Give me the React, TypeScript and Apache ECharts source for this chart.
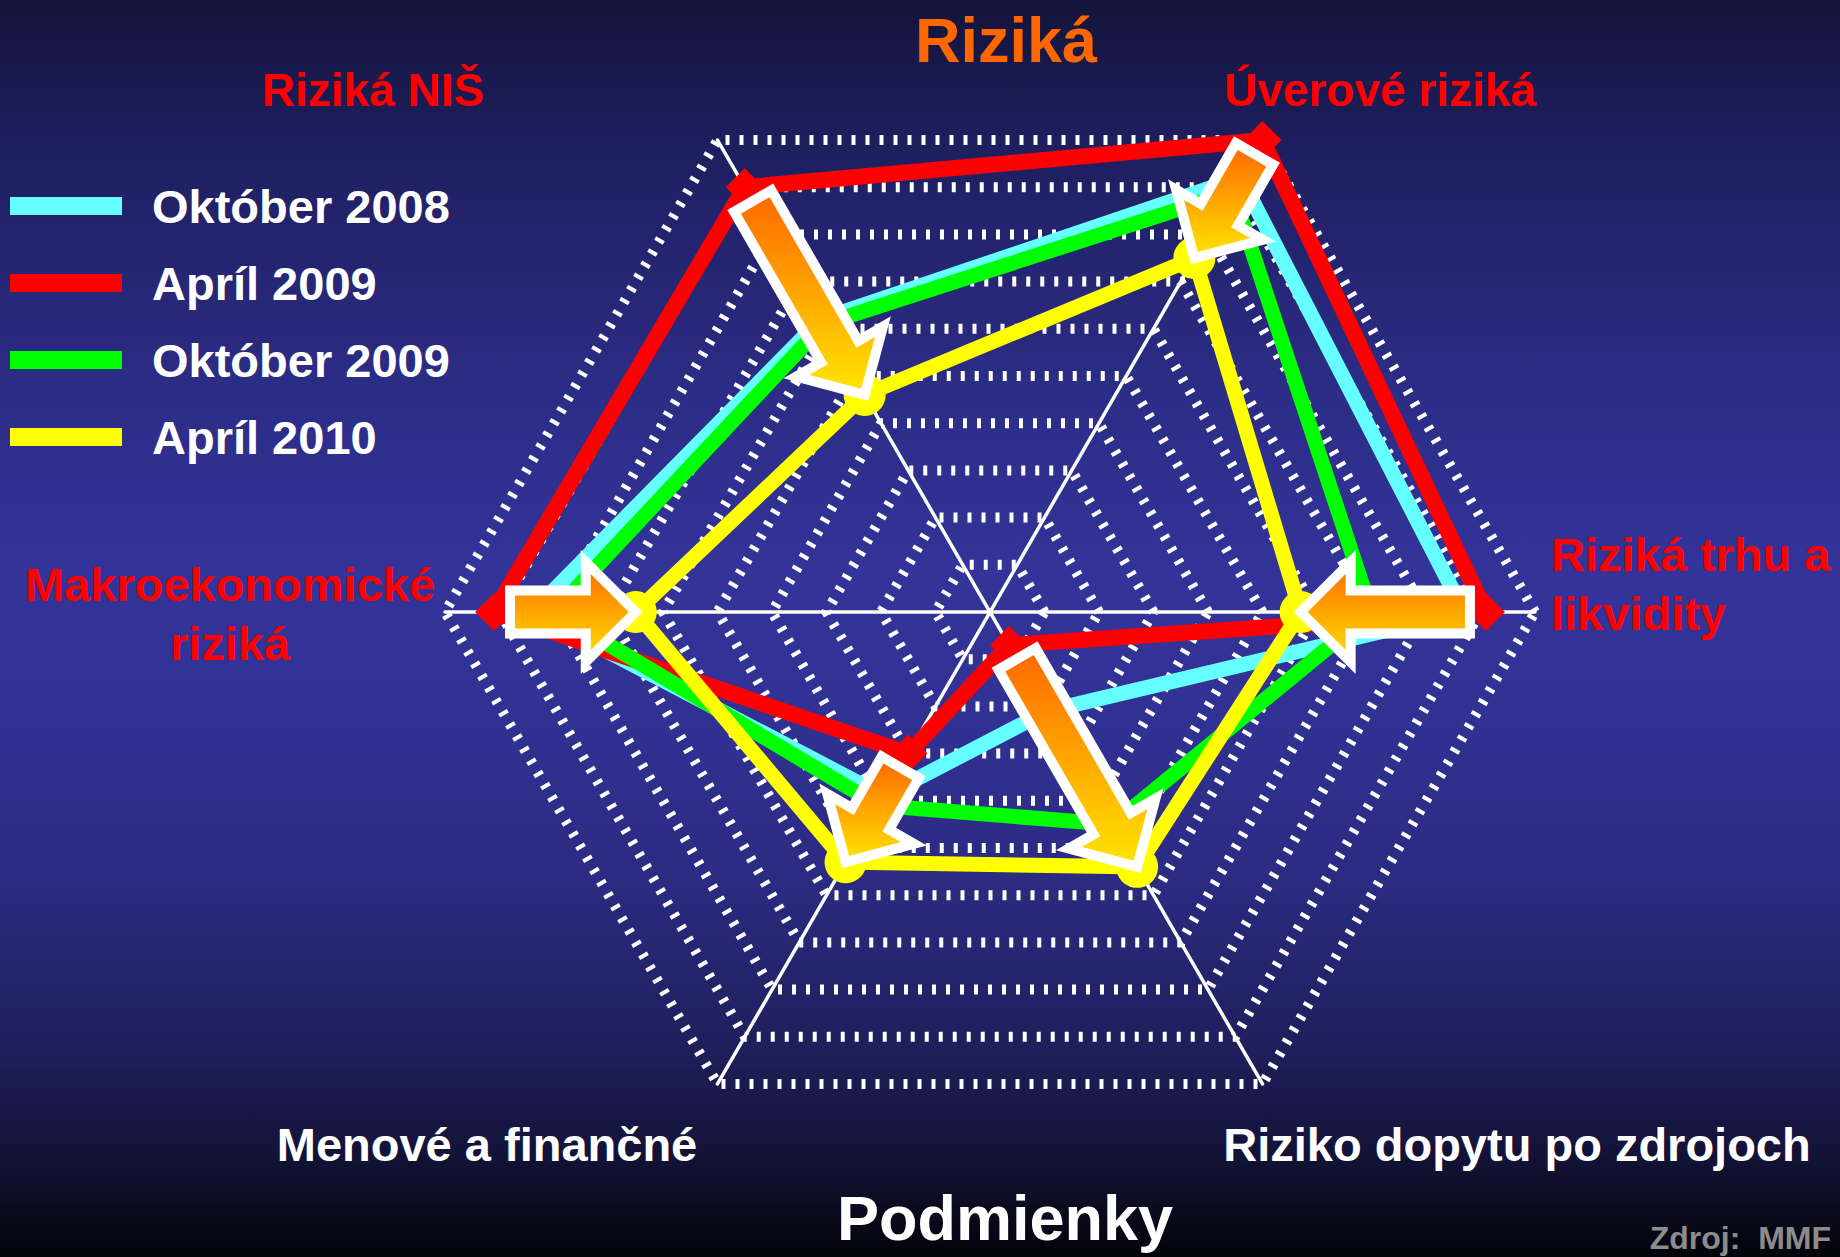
import React, { useEffect, useRef } from 'react';
import * as echarts from 'echarts';

// ---- data ----
const indicators = [
  'Riziká trhu a likvidity',
  'Úverové riziká',
  'Riziká NIŠ',
  'Makroekonomické riziká',
  'Menové a finančné',
  'Riziko dopytu po zdrojoch',
];
const seriesNames = ['Október 2008', 'Apríl 2009', 'Október 2009', 'Apríl 2010'];
const okt2008 = [8.7, 9.2, 6.2, 8.4, 3.9, 2.1];
const apr2009 = [9.1, 10.0, 9.0, 9.1, 3.0, 0.7];
const okt2009 = [7.0, 8.9, 6.1, 8.0, 4.1, 4.5];
const apr2010 = [5.7, 7.5, 4.6, 6.5, 5.3, 5.4];
const scaleMax = 10;
const splitCount = 10;

// ---- layout ----
const W = 1840;
const H = 1257;
const CENTER = [990, 612];
const RADIUS = 545;
const START_ANGLE = 0;
const FONT = '"Liberation Sans", Arial, sans-serif';

const SHAFT = 21.5;
const HEAD = 50;
const HEAD_LEN = 50;
const TAIL_INSET = 16;

function radarPoint(i: number, v: number): number[] {
  const ang = ((START_ANGLE + (i * 360) / indicators.length) * Math.PI) / 180;
  const r = (v / scaleMax) * RADIUS;
  return [CENTER[0] + r * Math.cos(ang), CENTER[1] - r * Math.sin(ang)];
}

function arrowPoints(from: number[], to: number[]): number[][] {
  const dx = to[0] - from[0];
  const dy = to[1] - from[1];
  const len = Math.hypot(dx, dy);
  const ux = dx / len;
  const uy = dy / len;
  const nx = -uy;
  const ny = ux;
  const sx = from[0] + ux * TAIL_INSET;
  const sy = from[1] + uy * TAIL_INSET;
  const bx = to[0] - ux * HEAD_LEN;
  const by = to[1] - uy * HEAD_LEN;
  return [
    [sx + nx * SHAFT, sy + ny * SHAFT],
    [bx + nx * SHAFT, by + ny * SHAFT],
    [bx + nx * HEAD, by + ny * HEAD],
    [to[0], to[1]],
    [bx - nx * HEAD, by - ny * HEAD],
    [bx - nx * SHAFT, by - ny * SHAFT],
    [sx - nx * SHAFT, sy - ny * SHAFT],
  ];
}

function txt(text: string, x: number, y: number, color: string, size: number, align = 'center', lineHeight?: number) {
  return {
    type: 'text',
    x,
    y,
    z: 110,
    style: {
      text,
      fill: color,
      fontSize: size,
      fontWeight: 'bold',
      fontFamily: FONT,
      align,
      verticalAlign: 'middle',
      lineHeight: lineHeight || size * 1.2,
    },
  };
}

export default function App() {
  const ref = useRef<HTMLDivElement>(null);

  useEffect(() => {
    document.body.style.margin = '0';
    if (!ref.current) return;
    const chart = echarts.init(ref.current, undefined, { renderer: 'svg', width: W, height: H });

    const arrows = indicators.map((_, i) => ({
      type: 'polygon',
      z: 100,
      shape: { points: arrowPoints(radarPoint(i, apr2009[i]), radarPoint(i, apr2010[i])) },
      style: {
        fill: {
          type: 'linear',
          x: 0,
          y: 0,
          x2: 0,
          y2: 1,
          colorStops: [
            { offset: 0, color: '#FF6600' },
            { offset: 1, color: '#FFE600' },
          ],
        },
        stroke: '#FFFFFF',
        lineWidth: 10,
        lineJoin: 'miter',
      },
    }));

    const texts = [
      txt('Riziká', 1006, 40, '#FF6600', 63),
      txt('Riziká NIŠ', 373, 90, '#FF0000', 46),
      txt('Úverové riziká', 1380, 90, '#FF0000', 46),
      txt('Riziká trhu a\nlikvidity', 1551, 584, '#FF0000', 47, 'left', 59),
      txt('Makroekonomické\nriziká', 230, 614, '#FF0000', 47, 'center', 59),
      txt('Menové a finančné', 487, 1144, '#FFFFFF', 47),
      txt('Riziko dopytu po zdrojoch', 1517, 1144, '#FFFFFF', 47),
      txt('Podmienky', 1005, 1218, '#FFFFFF', 63),
      txt('Zdroj:  MMF', 1831, 1238, '#8C8C8C', 32, 'right'),
    ];

    const colors = ['#66FFFF', '#FF0000', '#00FF00', '#FFFF00'];
    const values = [okt2008, apr2009, okt2009, apr2010];
    const symbols = ['none', 'diamond', 'none', 'circle'];
    const symbolSizes = [0, 38, 0, 42];
    const widths = [15, 16, 15, 15];

    chart.setOption({
      animation: false,
      backgroundColor: 'transparent',
      legend: {
        orient: 'vertical',
        left: 5,
        top: 173,
        itemWidth: 112,
        itemHeight: 18,
        itemGap: 21,
        icon: 'rect',
        selectedMode: false,
        data: seriesNames,
        itemStyle: { borderWidth: 0 },
        textStyle: {
          color: '#FFFFFF',
          fontSize: 47,
          fontWeight: 'bold',
          fontFamily: FONT,
          lineHeight: 56,
          padding: [0, 0, 0, 25],
        },
      },
      radar: {
        center: CENTER,
        radius: RADIUS,
        startAngle: START_ANGLE,
        splitNumber: splitCount,
        shape: 'polygon',
        indicator: indicators.map((name) => ({ name, min: 0, max: scaleMax })),
        axisName: { show: false },
        axisLine: { lineStyle: { color: '#FFFFFF', width: 3.5 } },
        axisTick: { show: false },
        axisLabel: { show: false },
        splitLine: { lineStyle: { color: '#FFFFFF', width: 10, type: [4, 10] } },
        splitArea: { show: false },
      },
      series: [
        {
          type: 'radar',
          silent: true,
          emphasis: { disabled: true },
          data: seriesNames.map((name, k) => ({
            name,
            value: values[k],
            symbol: symbols[k],
            symbolSize: symbolSizes[k],
            itemStyle: { color: colors[k], borderWidth: 0 },
            lineStyle: { color: colors[k], width: widths[k], join: 'miter' },
          })),
        },
      ],
      graphic: [...arrows, ...texts],
    });

    return () => chart.dispose();
  }, []);

  return (
    <div
      ref={ref}
      style={{
        width: W,
        height: H,
        background:
          'linear-gradient(to bottom, #13143a 0%, #1e1f60 12%, #2b2c84 30%, #333399 45%, #323296 55%, #2b2b82 70%, #1e1e5a 84%, #14143c 91%, #0b0b20 96%, #03030a 100%)',
      }}
    />
  );
}
